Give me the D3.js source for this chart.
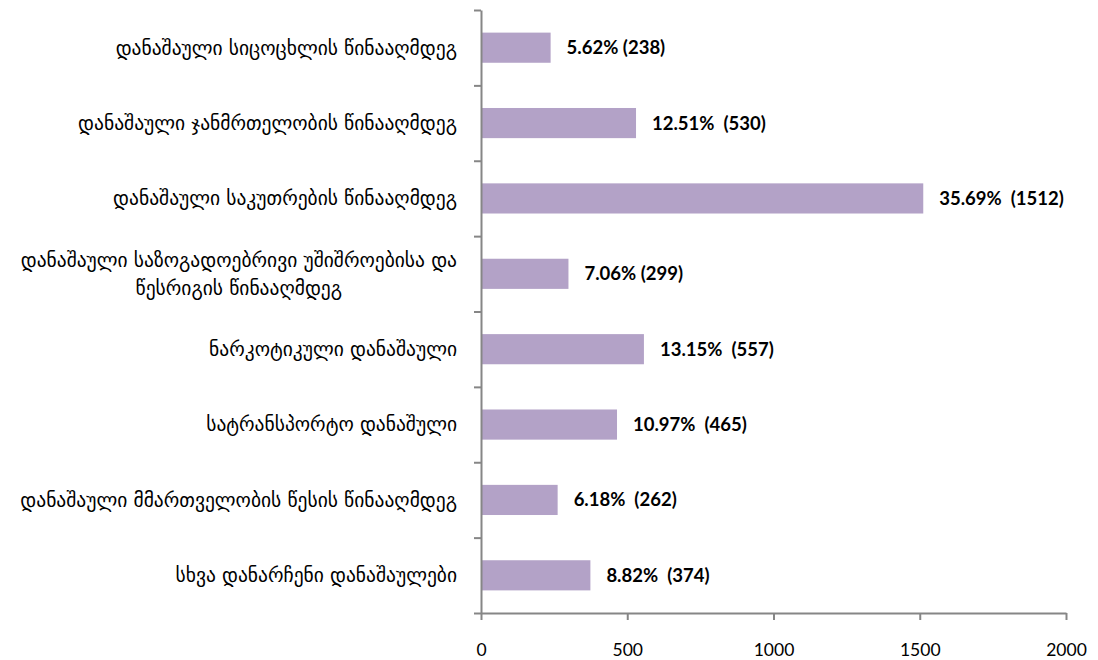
<!DOCTYPE html>
<html>
<head>
<meta charset="utf-8">
<script src="https://cdn.jsdelivr.net/npm/d3@7"></script>
<style>
  body { margin: 0; background: #fff; }
  .axis path, .axis line { stroke: #868686; stroke-width: 2; }
  .cat { font-family: "DejaVu Sans", sans-serif; font-size: 19.5px; fill: #000; }
  .val { font-family: Lato, sans-serif; font-weight: bold; font-size: 18.5px; fill: #000; white-space: pre; }
  .x-axis text { font-family: Lato, sans-serif; font-size: 17.5px; fill: #000; }
</style>
</head>
<body>
<div id="chart"></div>
<script>
// categories (top to bottom), may hold a line break
var categories = [
    "დანაშაული სიცოცხლის წინააღმდეგ",
    "დანაშაული ჯანმრთელობის წინააღმდეგ",
    "დანაშაული საკუთრების წინააღმდეგ",
    "დანაშაული საზოგადოებრივი უშიშროებისა და\nწესრიგის წინააღმდეგ",
    "ნარკოტიკული დანაშაული",
    "სატრანსპორტო დანაშული",
    "დანაშაული მმართველობის წესის წინააღმდეგ",
    "სხვა დანარჩენი დანაშაულები"
];
var counts = [238, 530, 1512, 299, 557, 465, 262, 374];
var valueLabels = [
    "5.62% (238)",
    "12.51%  (530)",
    "35.69%  (1512)",
    "7.06% (299)",
    "13.15%  (557)",
    "10.97%  (465)",
    "6.18%  (262)",
    "8.82%  (374)"
];
var xTicks = [0, 500, 1000, 1500, 2000];

var width = 1098, height = 660;
var margin = { top: 10, left: 481, right: 32, bottom: 47 };

var svg = d3.select('#chart').append('svg')
    .attr('width', width)
    .attr('height', height);

var x = d3.scaleLinear()
    .domain([0, 2000])
    .range([margin.left, width - margin.right]);

var y = d3.scaleBand()
    .domain(d3.range(categories.length))
    .range([margin.top, height - margin.bottom])
    .paddingInner(0.6)
    .paddingOuter(0.3);

// boundaries between categories, for the small ticks on the left axis
var yEdge = d3.scaleLinear()
    .domain([0, categories.length])
    .range([margin.top, height - margin.bottom]);

// bars
svg.append('g').selectAll('rect')
    .data(counts)
    .enter()
    .append('rect')
    .attr('x', x(0))
    .attr('y', function (d, i) { return y(i); })
    .attr('width', function (d) { return x(d) - x(0); })
    .attr('height', y.bandwidth())
    .style('fill', '#b3a2c7');

// value labels
svg.append('g').selectAll('text')
    .data(counts)
    .enter()
    .append('text')
    .attr('class', 'val')
    .attr('x', function (d) { return x(d) + 16; })
    .attr('y', function (d, i) { return y(i) + y.bandwidth() / 2; })
    .attr('dy', '0.35em')
    .text(function (d, i) { return valueLabels[i]; });

// x axis
svg.append('g')
    .attr('class', 'axis x-axis')
    .attr('transform', 'translate(0,' + (height - margin.bottom) + ')')
    .call(d3.axisBottom(x).tickValues(xTicks).tickFormat(d3.format('d'))
        .tickSize(7).tickPadding(24).tickSizeOuter(0));

// y axis (ticks at category boundaries)
svg.append('g')
    .attr('class', 'axis y-axis')
    .attr('transform', 'translate(' + margin.left + ',0)')
    .call(d3.axisLeft(yEdge).tickValues(d3.range(categories.length + 1)).tickFormat('').tickSize(7).tickSizeOuter(0));

// category labels
var lineH = 28;
var cats = svg.append('g');
categories.forEach(function (c, i) {
    var lines = c.split('\n');
    var cy = y(i) + y.bandwidth() / 2;
    var right = margin.left - 24;
    var firstW = 0;
    lines.forEach(function (l, j) {
        var t = cats.append('text')
            .attr('class', 'cat')
            .attr('y', cy + (j - (lines.length - 1) / 2) * lineH)
            .attr('dy', '0.35em')
            .text(l);
        if (j === 0) {
            firstW = t.node().getComputedTextLength();
            t.attr('x', right).attr('text-anchor', 'end');
        } else {
            t.attr('x', right - firstW / 2).attr('text-anchor', 'middle');
        }
    });
});
</script>
</body>
</html>
